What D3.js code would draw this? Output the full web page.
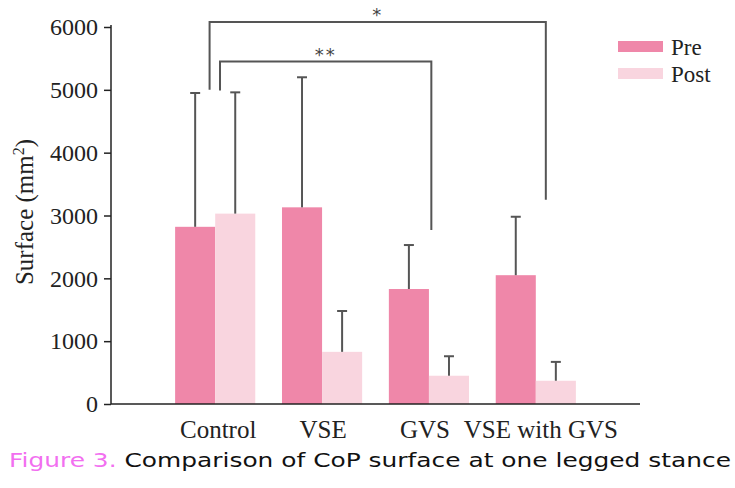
<!DOCTYPE html>
<html>
<head>
<meta charset="utf-8">
<script src="https://cdn.jsdelivr.net/npm/d3@7"></script>
<style>
  body { margin: 0; background: #fff; }
  svg { display: block; }
</style>
</head>
<body>
<div id="chart"></div>
<script>
// values
const categories = ['Control', 'VSE', 'GVS', 'VSE with GVS']
const preMean = [2820, 3130, 1830, 2050]
const preSD = [2130, 2070, 700, 930]
const postMean = [3030, 830, 450, 370]
const postSD = [1930, 650, 310, 300]
const yTicks = [0, 1000, 2000, 3000, 4000, 5000, 6000]
const seriesNames = ['Pre', 'Post']
const seriesColors = ['#ef87a9', '#f9d5df']
// significance brackets, in data units (x = category + fraction of its band)
const brackets = [
  { label: '*', left: 'Control', leftAt: 0.43, right: 'VSE with GVS', rightAt: 0.625, top: 6080, leftEnd: 5000, rightEnd: 3250 },
  { label: '**', left: 'Control', leftAt: 0.56, right: 'GVS', rightAt: 0.53, top: 5450, leftEnd: 4990, rightEnd: 2770 },
]

const width = 735
const height = 488
const serif = '"Liberation Serif", "Times New Roman", serif'

const svg = d3.select('#chart').append('svg').attr('width', width).attr('height', height)

const x = d3.scaleBand().domain(categories).range([111, 640]).paddingInner(0.25).paddingOuter(0.6)
const xs = d3.scaleBand().domain(seriesNames).range([0, x.bandwidth()])
const y = d3.scaleLinear().domain([0, 6000]).range([404, 27])

// bars
const rows = []
categories.forEach((c, i) => {
  rows.push({ cat: c, s: 'Pre', mean: preMean[i], sd: preSD[i], color: seriesColors[0] })
  rows.push({ cat: c, s: 'Post', mean: postMean[i], sd: postSD[i], color: seriesColors[1] })
})

svg.append('g')
  .selectAll('rect')
  .data(rows)
  .join('rect')
  .attr('x', (d) => x(d.cat) + xs(d.s))
  .attr('y', (d) => y(d.mean))
  .attr('width', xs.bandwidth())
  .attr('height', (d) => y(0) - y(d.mean))
  .attr('fill', (d) => d.color)

// error bars (upper only)
const err = svg.append('g').attr('stroke', '#555').attr('stroke-width', 2)
err.selectAll('line.v')
  .data(rows)
  .join('line')
  .attr('class', 'v')
  .attr('x1', (d) => x(d.cat) + xs(d.s) + xs.bandwidth() / 2)
  .attr('x2', (d) => x(d.cat) + xs(d.s) + xs.bandwidth() / 2)
  .attr('y1', (d) => y(d.mean))
  .attr('y2', (d) => y(d.mean + d.sd))
err.selectAll('line.cap')
  .data(rows)
  .join('line')
  .attr('class', 'cap')
  .attr('x1', (d) => x(d.cat) + xs(d.s) + xs.bandwidth() / 2 - 5)
  .attr('x2', (d) => x(d.cat) + xs(d.s) + xs.bandwidth() / 2 + 5)
  .attr('y1', (d) => y(d.mean + d.sd))
  .attr('y2', (d) => y(d.mean + d.sd))

// axes
const yAxis = svg.append('g')
  .attr('transform', 'translate(111,0)')
  .call(d3.axisLeft(y).tickValues(yTicks).tickSize(7).tickPadding(6).tickFormat(d3.format('d')))
yAxis.select('.domain').remove()
yAxis.selectAll('.tick line').attr('stroke', '#222').attr('stroke-width', 1.5)
yAxis.selectAll('text').attr('font-family', serif).attr('font-size', 24).attr('fill', '#222')

svg.append('line')
  .attr('x1', 111).attr('x2', 111)
  .attr('y1', y(6000) - 2).attr('y2', y(0))
  .attr('stroke', '#222').attr('stroke-width', 1.5)
svg.append('line')
  .attr('x1', 111).attr('x2', 640)
  .attr('y1', y(0)).attr('y2', y(0))
  .attr('stroke', '#222').attr('stroke-width', 1.5)

// the original labels sit a little off-centre (GVS nudged left, last one right)
const labelNudge = { Control: 3, VSE: 1, GVS: -4, 'VSE with GVS': 5 }
svg.append('g')
  .selectAll('text')
  .data(categories)
  .join('text')
  .attr('x', (d) => x(d) + x.bandwidth() / 2 + labelNudge[d])
  .attr('y', 438)
  .attr('text-anchor', 'middle')
  .attr('font-family', serif)
  .attr('font-size', 25)
  .attr('fill', '#222')
  .text((d) => d)

// y label
const yl = svg.append('text')
  .attr('transform', 'translate(33,' + 212 + ') rotate(-90)')
  .attr('text-anchor', 'middle')
  .attr('font-family', serif)
  .attr('font-size', 25)
  .attr('fill', '#222')
yl.append('tspan').text('Surface (mm')
yl.append('tspan').attr('dy', -9).attr('font-size', 16).text('2')
yl.append('tspan').attr('dy', 9).text(')')

// significance brackets
const bg = svg.append('g')
brackets.forEach((b) => {
  const x1 = x(b.left) + b.leftAt * x.bandwidth()
  const x2 = x(b.right) + b.rightAt * x.bandwidth()
  bg.append('path')
    .attr('d', `M${x1},${y(b.leftEnd)}V${y(b.top)}H${x2}V${y(b.rightEnd)}`)
    .attr('fill', 'none')
    .attr('stroke', '#555')
    .attr('stroke-width', 2)
  bg.append('text')
    .attr('x', (x1 + x2) / 2)
    .attr('y', y(b.top) - 1)
    .attr('text-anchor', 'middle')
    .attr('font-family', '"DejaVu Sans", sans-serif')
    .attr('font-size', 18)
    .attr('letter-spacing', 2)
    .attr('fill', '#444')
    .text(b.label)
})

// legend
const legend = svg.append('g')
seriesNames.forEach((s, i) => {
  legend.append('rect')
    .attr('x', 618).attr('y', 41 + i * 27)
    .attr('width', 45).attr('height', 11)
    .attr('fill', seriesColors[i])
  legend.append('text')
    .attr('x', 671).attr('y', 55 + i * 27)
    .attr('font-family', serif)
    .attr('font-size', 23)
    .attr('fill', '#222')
    .text(s)
})

// caption
const cap = svg.append('text')
  .attr('x', 9).attr('y', 467)
  .attr('font-family', '"DejaVu Sans", "Noto Sans", sans-serif')
  .attr('font-size', 19)
  .attr('textLength', 722)
  .attr('lengthAdjust', 'spacingAndGlyphs')
cap.append('tspan').attr('fill', '#f26ff0').text('Figure 3.')
cap.append('tspan').attr('fill', '#111').text(' Comparison of CoP surface at one legged stance')
</script>
</body>
</html>
